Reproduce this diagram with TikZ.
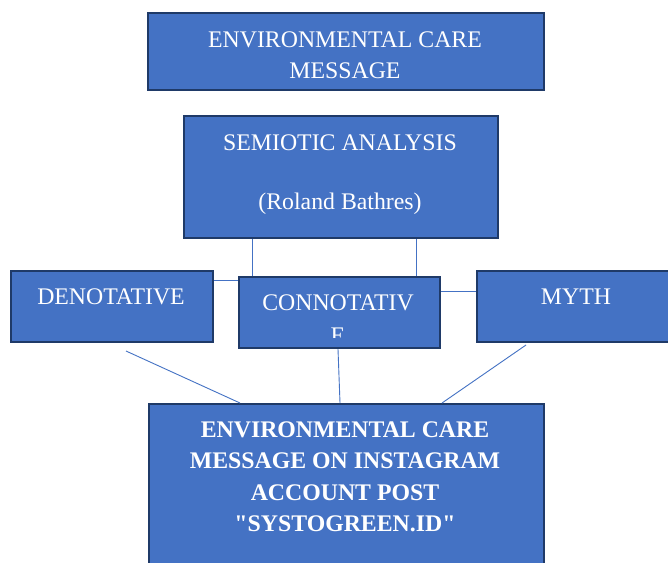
\documentclass[tikz,border=0pt]{standalone}
\usepackage{fontspec}
\setmainfont{Liberation Serif}[Ligatures=TeXOff]
\definecolor{boxfill}{HTML}{4472C4}
\definecolor{boxline}{HTML}{1F3A68}
\definecolor{connline}{HTML}{4472C4}
\begin{document}
\begin{tikzpicture}[x=1pt,y=-1pt,
  box/.style={draw=boxline, fill=boxfill, line width=2.2pt, rectangle, inner sep=0pt, anchor=north west},
  txt/.style={text=white, anchor=base, inner sep=0pt, font=\fontsize{23.8}{31}\selectfont},
  btxt/.style={txt, font=\fontsize{23.8}{31}\selectfont\bfseries},
  conn/.style={draw=connline, line width=0.9pt}]
\useasboundingbox (0,0) rectangle (668,562);
\fill[white] (0,0) rectangle (668,562);
% boxes
\node[box, minimum width=396pt, minimum height=77pt] (top) at (147,12) {};
\node[box, minimum width=314pt, minimum height=122pt] (sem) at (183,115) {};
\node[box, minimum width=202pt, minimum height=71pt] (den) at (10,270) {};
\node[box, minimum width=201pt, minimum height=71pt] (con) at (238,276) {};
\node[box, minimum width=224pt, minimum height=71pt] (myth) at (476,270) {};
\node[box, minimum width=395pt, minimum height=177pt] (bot) at (148,403) {};
% texts
\node[txt] (t1) at (345,47) {ENVIRONMENTAL CARE};
\node[txt] (t2) at (345,78) {MESSAGE};
\node[txt] (s1) at (340,150) {SEMIOTIC ANALYSIS};
\node[txt] (s2) at (340,209) {(Roland Bathres)};
\node[txt] (dt) at (111,304) {DENOTATIVE};
\node[txt] (mt) at (576,304) {MYTH};
\begin{scope}
\clip (238,276) rectangle (439,337);
\node[txt] (ct1) at (338,310) {CONNOTATIV};
\node[txt] (ct2) at (338,343) {E};
\end{scope}
\node[btxt] (b1) at (345,437) {ENVIRONMENTAL CARE};
\node[btxt] (b2) at (345,468) {MESSAGE ON INSTAGRAM};
\node[btxt] (b3) at (345,500) {ACCOUNT POST};
\node[btxt] (b4) at (345,531) {"SYSTOGREEN.ID"};
% helper coordinates
\coordinate (v1) at (252,0);
\coordinate (v2) at (416,0);
\coordinate (h1) at (0,280);
\coordinate (h2) at (0,291);
\coordinate (dfree) at (126,351);
\coordinate (mfree) at (526,345);
\coordinate (cx1) at (338,0);
\coordinate (cx2) at (340,0);
\coordinate (bx1) at (240,0);
\coordinate (bx3) at (442,0);
% connectors
\draw[conn] (sem.south -| v1) -- (con.north -| v1);
\draw[conn] (sem.south -| v2) -- (con.north -| v2);
\draw[conn] (den.east |- h1) -- (con.west |- h1);
\draw[conn] (con.east |- h2) -- (myth.west |- h2);
\draw[conn] (dfree) -- (bot.north -| bx1);
\draw[conn] (con.south -| cx1) -- (bot.north -| cx2);
\draw[conn] (mfree) -- (bot.north -| bx3);
\end{tikzpicture}
\end{document}
